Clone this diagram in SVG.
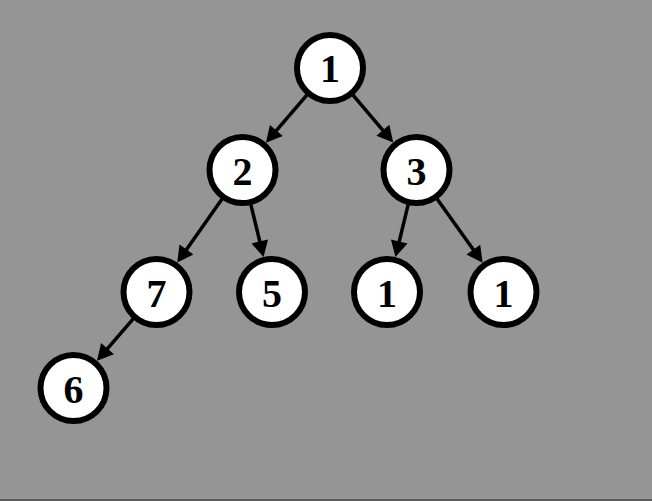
<svg xmlns="http://www.w3.org/2000/svg" width="652" height="501" viewBox="0 0 652 501">
  <style>
    .node circle { fill: #ffffff; stroke: #000000; stroke-width: 6; }
    .node text { font-family: "Liberation Serif", "Times New Roman", serif; font-weight: bold; font-size: 40px; fill: #000000; text-anchor: middle; }
    .edge { stroke: #000000; stroke-width: 3.5; fill: none; marker-end: url(#arrow); }
  </style>
  <defs>
    <marker id="arrow" markerUnits="userSpaceOnUse" markerWidth="17" markerHeight="17" refX="6" refY="8.5" orient="auto" overflow="visible">
      <path d="M0,0 L16,8.5 L0,17 z" fill="#000000"/>
    </marker>
  </defs>

  <!-- background -->
  <rect x="0" y="0" width="652" height="501" fill="#959595"/>
  <rect x="0" y="499" width="652" height="2" fill="#5c5c5c"/>

  <!-- connectors -->
  <g id="edges">
    <line class="edge" x1="307.86" y1="93.81" x2="272.45" y2="135.09"/>
    <line class="edge" x1="351.99" y1="93.93" x2="386.75" y2="134.92"/>
    <line class="edge" x1="222.91" y1="197.79" x2="183.0" y2="254.4"/>
    <line class="edge" x1="250.49" y1="203.05" x2="261.19" y2="247.29"/>
    <line class="edge" x1="408.51" y1="203.05" x2="397.81" y2="247.29"/>
    <line class="edge" x1="436.24" y1="197.68" x2="476.79" y2="254.55"/>
    <line class="edge" x1="134.26" y1="317.72" x2="103.58" y2="353.2"/>
  </g>

  <!-- nodes -->
  <g id="n1" class="node">
    <circle cx="330" cy="68" r="33"/>
    <text x="330" y="82">1</text>
  </g>
  <g id="n2" class="node">
    <circle cx="242.5" cy="170" r="33"/>
    <text x="242.5" y="184.5">2</text>
  </g>
  <g id="n3" class="node">
    <circle cx="416.5" cy="170" r="33"/>
    <text x="416.5" y="184.5">3</text>
  </g>
  <g id="n7" class="node">
    <circle cx="156.5" cy="292" r="33"/>
    <text x="156.5" y="306.5">7</text>
  </g>
  <g id="n5" class="node">
    <circle cx="272" cy="292" r="33"/>
    <text x="272" y="306.5">5</text>
  </g>
  <g id="n1b" class="node">
    <circle cx="387" cy="292" r="33"/>
    <text x="387" y="306.5">1</text>
  </g>
  <g id="n1c" class="node">
    <circle cx="503.5" cy="292" r="33"/>
    <text x="503.5" y="306.5">1</text>
  </g>
  <g id="n6" class="node">
    <circle cx="73.5" cy="388" r="33"/>
    <text x="73.5" y="402.5">6</text>
  </g>
</svg>
